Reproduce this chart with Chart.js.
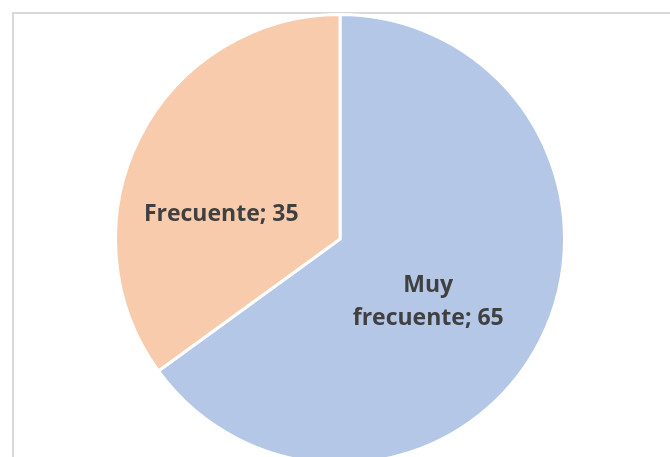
<!DOCTYPE html>
<html lang="es">
<head>
  <meta charset="UTF-8">
  <title>Frecuencia</title>
  <script src="https://cdn.jsdelivr.net/npm/chart.js"></script>
  <style>
    html, body {
      margin: 0;
      padding: 0;
      background: #fff;
      overflow: hidden;
    }
    .frame {
      position: relative;
      width: 670px;
      height: 457px;
      overflow: hidden;
    }
    .border {
      position: absolute;
      left: 12px;
      top: 12px;
      width: 720px;
      height: 520px;
      border: 2px solid #d9d9d9;
    }
    canvas {
      position: absolute;
      left: 0;
      top: 0;
    }
  </style>
</head>
<body>
  <div class="frame">
    <div class="border"></div>
    <canvas id="pie" width="670" height="478"></canvas>
  </div>
  <script>
    // datos del gráfico
    const categories = ['Muy frecuente', 'Frecuente'];
    const values = [65, 35];
    const colors = ['#b4c7e7', '#f8cbad'];

    // etiquetas dentro de cada sector (líneas de texto)
    const labelLines = [
      ['Muy', 'frecuente; ' + values[0]],
      [categories[1] + '; ' + values[1]]
    ];

    // dibuja las etiquetas relativo al centro y radio del pastel
    const sliceLabels = {
      id: 'sliceLabels',
      afterDatasetsDraw(chart) {
        const meta = chart.getDatasetMeta(0);
        const ctx = chart.ctx;
        // desplazamientos en fracción del radio: [dx, dy primera línea]
        const offsets = [[0.393, 0.237], [-0.529, -0.080]];
        const lineGap = 33;
        ctx.save();
        ctx.fillStyle = '#404040';
        ctx.font = 'bold 23px "Open Sans", sans-serif';
        ctx.textAlign = 'center';
        ctx.textBaseline = 'alphabetic';
        meta.data.forEach((arc, i) => {
          const r = arc.outerRadius;
          const x = arc.x + offsets[i][0] * r;
          let y = arc.y + offsets[i][1] * r;
          labelLines[i].forEach(line => {
            ctx.fillText(line, x, y);
            y += lineGap;
          });
        });
        ctx.restore();
      }
    };

    new Chart(document.getElementById('pie'), {
      type: 'pie',
      data: {
        labels: categories,
        datasets: [{
          data: values,
          backgroundColor: colors,
          borderColor: '#ffffff',
          borderWidth: 3
        }]
      },
      options: {
        responsive: false,
        animation: false,
        layout: { padding: { top: 13, bottom: 13, left: 10, right: 0 } },
        plugins: {
          legend: { display: false },
          tooltip: { enabled: false }
        }
      },
      plugins: [sliceLabels]
    });
  </script>
</body>
</html>
